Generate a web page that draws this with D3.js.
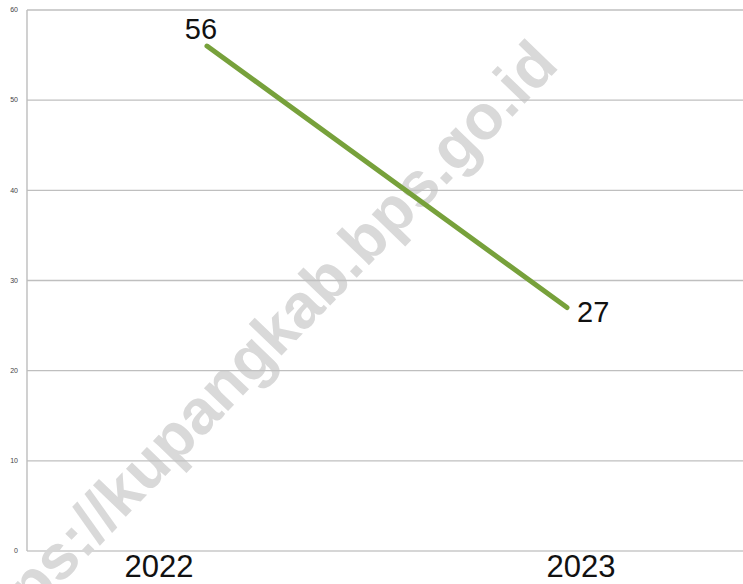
<!DOCTYPE html>
<html>
<head>
<meta charset="utf-8">
<script src="https://cdn.jsdelivr.net/npm/d3@7"></script>
<style>
  body { margin: 0; background: #fff; }
</style>
</head>
<body>
<div id="chart"></div>
<script>
// data
var years = ["2022", "2023"];
var values = [56, 27];
var yTicks = [0, 10, 20, 30, 40, 50, 60];

var W = 743, H = 584;
var plotLeft = 27, plotTop = 10, plotBottom = 551;

var svg = d3.select("#chart")
  .append("svg")
    .attr("width", W)
    .attr("height", H);

// watermark behind everything
svg.append("text")
  .attr("transform", "translate(-23,671) rotate(-46)")
  .style("font-family", "Liberation Sans, Arial, sans-serif")
  .style("font-weight", "bold")
  .style("font-size", "63px")
  .attr("fill", "#d9d9d9")
  .text("https://kupangkab.bps.go.id");

var x = d3.scalePoint()
  .domain(years)
  .range([plotLeft, W + 4])
  .padding(0.5);

// category labels sit a bit off the points in the original
var xLab = d3.scalePoint()
  .domain(years)
  .range([159, 581]);

var y = d3.scaleLinear()
  .domain([0, 60])
  .range([plotBottom, plotTop]);

// gridlines
svg.append("g")
  .selectAll("line")
  .data(yTicks)
  .enter()
  .append("line")
    .attr("x1", plotLeft)
    .attr("x2", W)
    .attr("y1", function(d) { return y(d) })
    .attr("y2", function(d) { return y(d) })
    .attr("stroke", function(d) { return d === 0 ? "#d6d6d6" : "#bfbfbf" })
    .attr("stroke-width", function(d) { return d === 0 ? 2 : 1.4 });

// left axis line
svg.append("line")
  .attr("x1", plotLeft).attr("x2", plotLeft)
  .attr("y1", y(60)).attr("y2", y(0))
  .attr("stroke", "#bdbdbd")
  .attr("stroke-width", 1.4);

// y tick labels
svg.append("g")
  .selectAll("text")
  .data(yTicks)
  .enter()
  .append("text")
    .attr("x", 18)
    .attr("y", function(d) { return y(d) })
    .attr("dy", "0.32em")
    .attr("text-anchor", "end")
    .style("font-family", "Liberation Sans, Arial, sans-serif")
    .style("font-size", "7px")
    .attr("fill", "#444")
    .text(function(d) { return d });

// x labels
svg.append("g")
  .selectAll("text")
  .data(years)
  .enter()
  .append("text")
    .attr("x", function(d) { return xLab(d) })
    .attr("y", 577)
    .attr("text-anchor", "middle")
    .style("font-family", "Liberation Sans, Arial, sans-serif")
    .style("font-size", "31px")
    .attr("fill", "#111")
    .text(function(d) { return d });

// the line
var pts = years.map(function(d, i) { return {year: d, value: values[i]} });
svg.append("path")
  .datum(pts)
  .attr("fill", "none")
  .attr("stroke", "#77a13b")
  .attr("stroke-width", 5)
  .attr("stroke-linecap", "round")
  .attr("d", d3.line()
    .x(function(d) { return x(d.year) })
    .y(function(d) { return y(d.value) }));

// value labels
svg.append("text")
  .attr("x", x(years[0]) - 6)
  .attr("y", y(values[0]) - 7)
  .attr("text-anchor", "middle")
  .style("font-family", "Liberation Sans, Arial, sans-serif")
  .style("font-size", "29px")
  .attr("fill", "#111")
  .text(values[0]);

svg.append("text")
  .attr("x", x(years[1]) + 10)
  .attr("y", y(values[1]) + 14)
  .attr("text-anchor", "start")
  .style("font-family", "Liberation Sans, Arial, sans-serif")
  .style("font-size", "29px")
  .attr("fill", "#111")
  .text(values[1]);
</script>
</body>
</html>
